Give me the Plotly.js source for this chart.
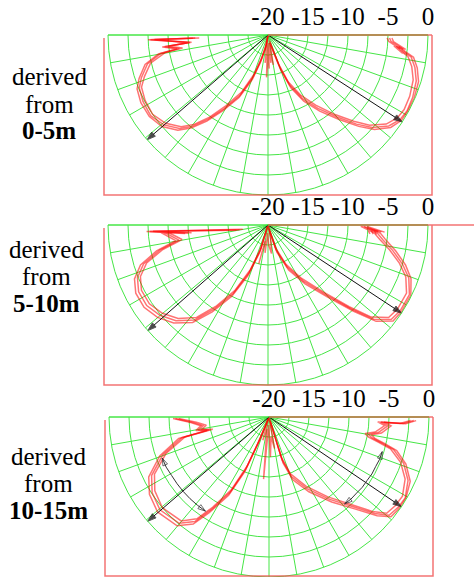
<!DOCTYPE html>
<html>
<head>
<meta charset="utf-8">
<script src="https://cdn.plot.ly/plotly-3.0.1.min.js"></script>
<style>html,body{margin:0;padding:0;background:#fff;}#chart{width:474px;height:577px;}</style>
</head>
<body>
<div id="chart"></div>
<script>
// ---------- data (angle in degrees, level in dB) ----------
const radialTickVals = [-20, -17.5, -15, -12.5, -10, -7.5, -5, -2.5, 0];
const radialTickText = ['-20', '', '-15', '', '-10', '', '-5', '', '0'];
const angleTickVals = [180,190,200,210,220,230,240,250,260,270,280,290,300,310,320,330,340,350,360];
const panelLabels = ['0-5m', '5-10m', '10-15m'];

// Panel 1 (0-5m)
const p1LeftTheta = [182.4,182.3,185.5,186.5,188.6,189.8,193.5,198.6,202.4,208,214.5,220.8,226.6,230.4,234.6,239.2,245.1,250.5,254.5,259,262];
const p1LeftA = [-10.9,-5.3,-10.2,-7.0,-8.8,-6.4,-4.5,-3.3,-2.6,-2.3,-2.2,-2.8,-3.9,-5.2,-7.1,-9.3,-11.7,-14.4,-16.7,-18.5,-20];
const p1LeftB = [-11.4,-5.8,-9.9,-7.5,-9.2,-6.9,-4.9,-3.7,-2.9,-2.6,-2.5,-3.1,-4.2,-5.5,-7.4,-9.7,-12.1,-14.8,-17.0,-18.8,-20];
const p1LeftC = [-10.6,-5.0,-10.4,-6.7,-8.5,-6.1,-4.2,-3.0,-2.3,-2.0,-2.0,-2.5,-3.6,-4.9,-6.8,-9.0,-11.4,-14.1,-16.4,-18.2,-20];
const p1RightTheta = [284,290.1,293.4,298.4,304.2,310.1,314.8,318.4,323,327.3,331.3,336.6,342.8,347.6,351.3,353.5,352.2,355.0,354.0,357.0,358.6];
const p1RightA = [-19.0,-15.7,-13.2,-11.0,-8.9,-6.6,-4.3,-2.6,-1.1,-0.4,-0.2,-0.3,-0.6,-1.2,-1.9,-3.2,-2.6,-3.9,-3.0,-4.6,-4.8];
const p1RightB = [-19.3,-16.1,-13.6,-11.5,-9.4,-7.0,-4.8,-3.0,-1.5,-0.8,-0.6,-0.7,-1.0,-1.6,-2.3,-3.5,-3.0,-4.2,-3.4,-4.9,-5.1];
const p1RightC = [-18.7,-15.3,-12.8,-10.6,-8.5,-6.2,-3.9,-2.2,-0.8,-0.2,-0.1,-0.1,-0.3,-0.9,-1.6,-2.9,-2.3,-3.6,-2.7,-4.3,-4.5];
const p1SpikeTheta = [262,264,266,268,270,272,274,276,278,280,282,284];
const p1SpikeR = [-20,-16.5,-19,-14.7,-17.5,-15.8,-19,-16.5,-18,-16.2,-18.5,-19];

// Panel 2 (5-10m)
const p2LeftTheta = [189.3,183.1,185.8,184.0,189.6,193.1,197.4,202,207.3,213.6,219.9,226.1,232.3,237.3,243.1,248.4,253.1,256];
const p2LeftA = [-16.4,-5.2,-10.0,-7.0,-8.7,-6.1,-3.7,-2.4,-1.8,-1.8,-2.4,-3.4,-5.0,-7.5,-10.4,-13.6,-16.7,-20];
const p2LeftB = [-16.8,-5.6,-10.4,-7.4,-9.1,-6.5,-4.1,-2.8,-2.2,-2.2,-2.8,-3.8,-5.4,-7.9,-10.8,-14.0,-17.0,-20];
const p2LeftC = [-16.0,-4.8,-9.6,-6.6,-8.3,-5.7,-3.3,-2.0,-1.4,-1.4,-2.0,-3.0,-4.6,-7.1,-10.0,-13.2,-16.4,-20];
const p2RightTheta = [284,288.2,294.6,302.2,309.6,314.8,318.3,322.5,327,333.8,339.4,343.8,348.5,352.6,355.8,359.2,356.5,358.0,355.0];
const p2RightA = [-19.5,-16.7,-14.2,-11.7,-8.7,-5.2,-2.3,-0.6,-0.3,-0.3,-1.2,-2.5,-4.1,-5.5,-6.3,-8.0,-5.8,-7.2,-6.8];
const p2RightB = [-19.7,-17.0,-14.6,-12.1,-9.1,-5.6,-2.7,-1.0,-0.7,-0.7,-1.6,-2.9,-4.5,-5.9,-6.7,-8.4,-6.2,-7.6,-7.2];
const p2RightC = [-19.2,-16.4,-13.8,-11.3,-8.3,-4.8,-1.9,-0.3,-0.1,-0.1,-0.9,-2.1,-3.7,-5.1,-5.9,-7.6,-5.4,-6.8,-6.4];
const p2SpikeTheta = [256.6,260,264,268,272,277,282,286];
const p2SpikeR = [-15,-18,-16.5,-19,-17.5,-16.4,-18.5,-20];

// Panel 3 (10-15m)
const p3LeftTheta = [180.9,184.1,187.4,190.5,192.2,193.4,199.6,206.5,212.9,220.4,229.8,234.7,238,242.7,246,247.5,249];
const p3LeftA = [-8.3,-10.5,-11.7,-11.0,-12.4,-8.8,-5.9,-3.6,-2.6,-2.1,-2.6,-4.0,-6.3,-9.4,-12.9,-16.7,-20];
const p3LeftB = [-8.7,-10.9,-12.1,-11.4,-12.8,-9.2,-6.3,-4.0,-3.0,-2.5,-3.0,-4.4,-6.7,-9.8,-13.3,-17.0,-20];
const p3LeftC = [-8.0,-10.2,-11.4,-10.7,-12.1,-8.4,-5.5,-3.2,-2.2,-1.7,-2.2,-3.6,-5.9,-9.0,-12.5,-16.4,-20];
const p3RightTheta = [286,287,290.7,298.1,306.4,313,317.6,320.7,325,329.3,335.5,341,345.3,347.1,348.6,350.2,351.9,355.8,357.4,357.2,358.6];
const p3RightA = [-19.5,-14.4,-12.0,-9.8,-7.2,-4.7,-2.1,-0.6,-0.3,-0.2,-0.9,-2.2,-3.9,-5.6,-6.9,-7.4,-6.2,-5.1,-6.0,-3.2,-1.9];
const p3RightB = [-19.7,-14.8,-12.4,-10.2,-7.6,-5.1,-2.5,-1.0,-0.7,-0.6,-1.3,-2.6,-4.3,-6.0,-7.3,-7.8,-6.6,-5.5,-6.4,-3.6,-2.3];
const p3RightC = [-19.3,-14.0,-11.6,-9.4,-6.8,-4.3,-1.7,-0.3,-0.1,-0.1,-0.6,-1.9,-3.5,-5.2,-6.5,-7.0,-5.8,-4.7,-5.6,-2.9,-1.6];
const p3SpikeTheta = [249,255,260,265,268,272,276,280,285];
const p3SpikeR = [-20,-17,-18.5,-12.2,-19,-15,-17.5,-16,-20];

// Beam-direction arrows (angle of each arrow; tip drawn at the 0 dB rim)
const arrowTheta = [[220.9, 327.1], [221.3, 326.6], [220.7, 325.9]];
const arrowTipR = [[0, 0], [0, 0], [0, 0]];
// Beam-width arcs (panel 3)
const arcLeftTheta = [201,206,211,216,221,226,231,236];
const arcLeftR = [-5.7,-5.7,-5.8,-5.8,-5.8,-5.8,-5.8,-5.8];
const arcRightTheta = [343,339,335,331,327,323,319,315,311];
const arcRightR = [-5.2,-5.2,-5.3,-5.3,-5.4,-5.4,-5.5,-5.5,-5.6];

// ---------- styling / layout ----------
const W = 474, H = 577;
const GREEN = 'rgb(70,230,70)';
const RED = 'rgba(255,0,0,0.55)';
const SERIF = 'Times New Roman';
const subplots = ['polar', 'polar2', 'polar3'];
const R = 160;
const centers = [[268, 35], [268, 225], [269, 417]];

function polarLayout(c) {
  const x0 = (c[0] - R) / W, x1 = (c[0] + R) / W;
  const y1 = 1 - c[1] / H, y0 = Math.max(0, 1 - (c[1] + R) / H);
  return {
    domain: {x: [x0, x1], y: [y0, y1]},
    sector: [180, 360],
    bgcolor: 'rgba(0,0,0,0)',
    radialaxis: {
      range: [-20, 0], tickvals: radialTickVals, ticktext: radialTickText,
      angle: 0, side: 'counterclockwise', tickangle: 0,
      showline: true, linecolor: GREEN, linewidth: 1,
      showgrid: true, gridcolor: GREEN, gridwidth: 1, ticks: '',
      tickfont: {family: SERIF, size: 25, color: '#000'}
    },
    angularaxis: {
      tickvals: angleTickVals, showticklabels: false, ticks: '',
      showgrid: true, gridcolor: GREEN, gridwidth: 1,
      showline: true, linecolor: GREEN, linewidth: 1,
      direction: 'counterclockwise', rotation: 0
    }
  };
}

const traces = [];
function lobe(theta, r, sp) {
  traces.push({type: 'scatterpolar', subplot: sp, mode: 'lines', theta: theta, r: r,
    line: {color: RED, width: 1.5}, hoverinfo: 'skip'});
}
const panelData = [
  [p1LeftTheta, [p1LeftA, p1LeftB, p1LeftC], p1RightTheta, [p1RightA, p1RightB, p1RightC], p1SpikeTheta, p1SpikeR],
  [p2LeftTheta, [p2LeftA, p2LeftB, p2LeftC], p2RightTheta, [p2RightA, p2RightB, p2RightC], p2SpikeTheta, p2SpikeR],
  [p3LeftTheta, [p3LeftA, p3LeftB, p3LeftC], p3RightTheta, [p3RightA, p3RightB, p3RightC], p3SpikeTheta, p3SpikeR]
];
panelData.forEach((pd, i) => {
  const sp = subplots[i];
  pd[1].forEach(r => lobe(pd[0], r, sp));
  pd[3].forEach(r => lobe(pd[2], r, sp));
  lobe(pd[4], pd[5], sp);
  for (let k = 0; k < 2; k++) {
    traces.push({type: 'scatterpolar', subplot: sp, mode: 'lines+markers', cliponaxis: false,
      theta: [arrowTheta[i][k], arrowTheta[i][k]], r: [-20, arrowTipR[i][k]],
      line: {color: '#111', width: 1},
      marker: {symbol: 'arrow', size: [0, 9], angleref: 'previous', color: '#000'},
      hoverinfo: 'skip'});
  }
});
function doubleArc(theta, r, sp) {
  const n = theta.length;
  const sizes = theta.map((_, j) => j === n - 1 ? 8 : 0);
  traces.push({type: 'scatterpolar', subplot: sp, mode: 'lines+markers', theta: theta, r: r,
    line: {color: '#333', width: 1},
    marker: {symbol: 'arrow-open', size: sizes, angleref: 'previous', color: '#333', line: {color: '#333', width: 1}},
    hoverinfo: 'skip'});
  traces.push({type: 'scatterpolar', subplot: sp, mode: 'markers', theta: theta.slice().reverse(), r: r.slice().reverse(),
    marker: {symbol: 'arrow-open', size: sizes, angleref: 'previous', color: '#333', line: {color: '#333', width: 1}},
    hoverinfo: 'skip'});
}
doubleArc(arcLeftTheta, arcLeftR, 'polar3');
doubleArc(arcRightTheta, arcRightR, 'polar3');

// frames around each panel (pixel positions converted to paper)
const px = x => x / W, py = y => 1 - y / H;
const frames = [
  {xl: 104, xr: 432, yt: 35, yb: 195, xtop: 432},
  {xl: 104, xr: 432, yt: 225, yb: 385, xtop: 474},
  {xl: 105, xr: 433, yt: 417, yb: 576, xtop: 433}
];
const shapes = frames.map((f, i) => ({
  type: 'path', xref: 'paper', yref: 'paper', layer: 'above',
  path: `M${px(centers[i][0])},${py(f.yt)} L${px(f.xtop)},${py(f.yt)} M${px(f.xr)},${py(f.yt)} L${px(f.xr)},${py(f.yb)} L${px(f.xl)},${py(f.yb)} L${px(f.xl)},${py(f.yt + 3)}`,
  line: {color: 'rgba(240,80,80,0.8)', width: 1.5}
}));

const textRows = [[49, 77, 104, 131], [46, 249, 276, 303], [48, 456, 483, 510]];
const annotations = [];
textRows.forEach((t, i) => {
  [['derived', t[1]], ['from', t[2]], ['<b>' + panelLabels[i] + '</b>', t[3]]].forEach(([txt, y]) => {
    annotations.push({xref: 'paper', yref: 'paper', x: px(t[0]), y: py(y), text: txt, showarrow: false,
      xanchor: 'center', yanchor: 'middle', font: {family: SERIF, size: 25, color: '#000'}});
  });
});

const layout = {
  width: W, height: H, margin: {l: 0, r: 0, t: 0, b: 0},
  paper_bgcolor: '#fff', showlegend: false,
  polar: polarLayout(centers[0]), polar2: polarLayout(centers[1]), polar3: polarLayout(centers[2]),
  shapes: shapes, annotations: annotations
};
Plotly.newPlot('chart', traces, layout, {staticPlot: true, displayModeBar: false});
</script>
</body>
</html>
